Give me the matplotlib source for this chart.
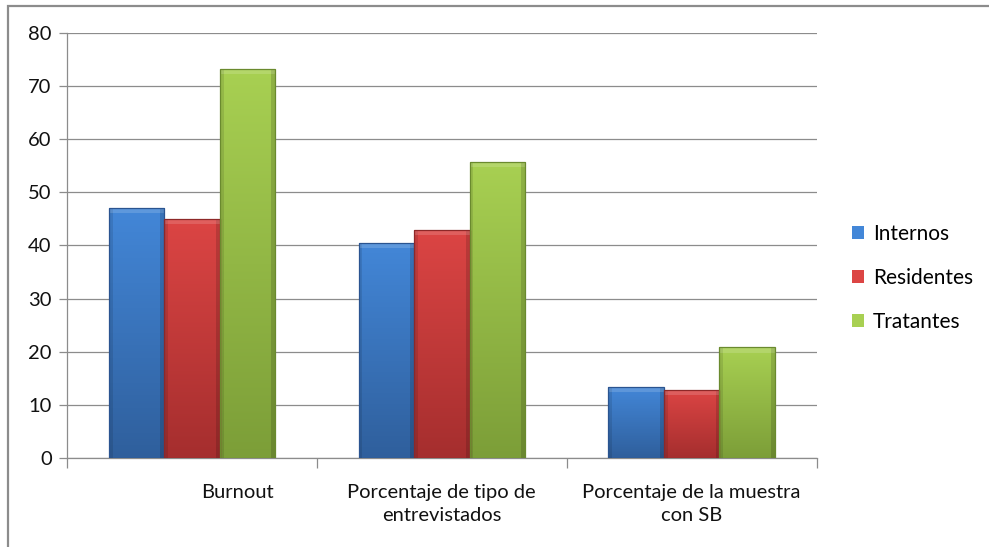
import matplotlib.pyplot as plt
import numpy as np
from matplotlib.colors import LinearSegmentedColormap
from matplotlib.patches import Rectangle

categories = ['Burnout', 'Porcentaje de tipo de\nentrevistados', 'Porcentaje de la muestra\ncon SB']
series = ['Internos', 'Residentes', 'Tratantes']
internos = [47.1, 40.5, 13.4]
residentes = [45.0, 43.0, 12.8]
tratantes = [73.2, 55.7, 20.8]

# top colour, bottom colour for the gradient
shades = {
    'Internos': ('#4387d8', '#2f5f9c'),
    'Residentes': ('#dc4544', '#a52e2e'),
    'Tratantes': ('#a8d052', '#7c9e38'),
}
edges = {'Internos': '#2a5490', 'Residentes': '#8e2828', 'Tratantes': '#6a8a2e'}

plt.rcParams['font.family'] = ['Lato', 'DejaVu Sans']

fig = plt.figure(figsize=(9.89, 5.47), dpi=100)
ax = fig.add_axes([0.0677, 0.1627, 0.758, 0.777])

x = np.arange(len(categories))
width = 0.222
values = [internos, residentes, tratantes]

grad = np.linspace(0, 1, 256).reshape(-1, 1)
for i, (name, vals) in enumerate(zip(series, values)):
    bars = ax.bar(x + (i - 1) * width, vals, width, color=shades[name][0],
                  edgecolor='none', label=name, zorder=3)
    cmap = LinearSegmentedColormap.from_list(name, [shades[name][1], shades[name][0]])
    for b in bars:
        x0, y0 = b.get_x(), b.get_y()
        w, h = b.get_width(), b.get_height()
        im = ax.imshow(grad, extent=[x0, x0 + w, y0, y0 + h], origin='lower',
                       cmap=cmap, aspect='auto', zorder=3.5)
        im.set_clip_path(b)
        # bevel shading on the sides and top
        ax.add_patch(Rectangle((x0, y0), w * 0.07, h, color='black', alpha=0.10,
                               lw=0, zorder=3.6))
        ax.add_patch(Rectangle((x0 + w * 0.93, y0), w * 0.07, h, color='black',
                               alpha=0.14, lw=0, zorder=3.6))
        ax.add_patch(Rectangle((x0, y0 + h - 1.0), w, 1.0, color='white', alpha=0.15,
                               lw=0, zorder=3.6))
        ax.add_patch(Rectangle((x0, y0), w, h, fill=False, edgecolor=edges[name],
                               lw=0.9, zorder=3.7))

ax.set_xlim(-0.5, 2.5)
ax.set_ylim(0, 80)
ax.set_yticks(range(0, 81, 10))
ax.yaxis.grid(True, color='#8c8c8c', linewidth=0.9, zorder=0)
ax.set_axisbelow(True)

ax.set_xticks([-0.5, 0.5, 1.5, 2.5])
ax.set_xticklabels([])
ax.tick_params(axis='x', length=7, color='#8c8c8c', width=0.9, direction='out')
ax.tick_params(axis='y', length=6, color='#8c8c8c', width=0.9, labelsize=14.5,
               labelcolor='#111111', pad=5)

for s in ['top', 'right']:
    ax.spines[s].set_visible(False)
for s in ['left', 'bottom']:
    ax.spines[s].set_color('#8c8c8c')
    ax.spines[s].set_linewidth(0.9)

offsets = [0.184, 0.0, 0.0]
for xi, lab, off in zip(x, categories, offsets):
    ax.text(xi + off, -4.8, lab, ha='center', va='top', fontsize=14.5,
            color='#111111', linespacing=1.45)

leg = ax.legend(loc='center left', bbox_to_anchor=(1.022, 0.424), frameon=False,
                fontsize=15, handlelength=0.6, handleheight=0.6, labelspacing=1.15,
                handletextpad=0.4)

# chart frame
fig.patches.append(Rectangle((8 / 989, -0.01), 1.0, 1 - 6 / 547 + 0.01,
                             transform=fig.transFigure, fill=False,
                             edgecolor='#8c8c8c', linewidth=1.6))

fig.savefig('out.png', dpi=100)
